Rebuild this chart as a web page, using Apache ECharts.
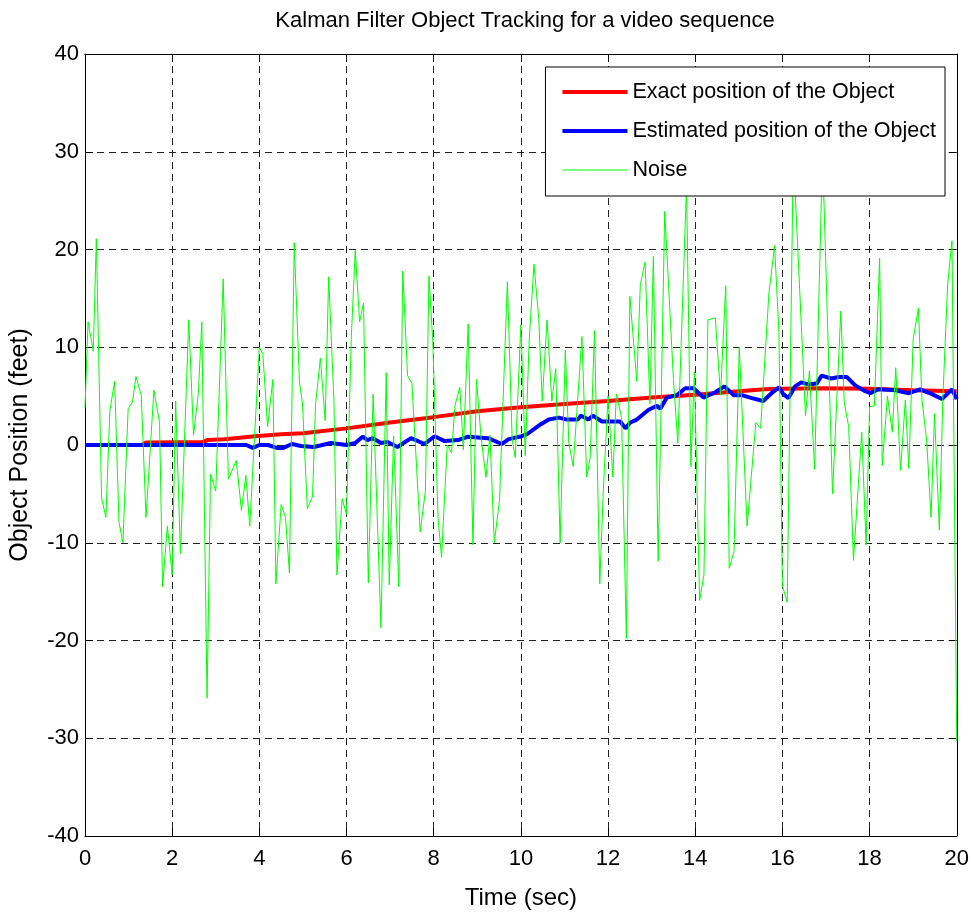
<!DOCTYPE html>
<html>
<head>
<meta charset="utf-8">
<script src="https://cdn.jsdelivr.net/npm/echarts@6/dist/echarts.min.js"></script>
<style>
html, body { margin: 0; background: #fff; }
#main { width: 972px; height: 915px; }
</style>
</head>
<body>
<div id="main"></div>
<script>
const titleText = 'Kalman Filter Object Tracking for a video sequence';
const names = ['Exact position of the Object', 'Estimated position of the Object', 'Noise'];

// [time (sec), position (feet)]
const exact = [
  [0, 0], [1.3, 0], [1.4, 0.25], [2.7, 0.3], [2.8, 0.5], [3.2, 0.6], [3.9, 0.9], [4.5, 1.1],
  [5, 1.2], [6, 1.7], [7, 2.3], [8, 2.85], [9, 3.45], [10, 3.85], [11, 4.2], [12, 4.5],
  [13, 4.85], [14, 5.15], [15, 5.5], [15.6, 5.7], [16, 5.75], [17, 5.8], [18, 5.75], [19, 5.6], [20, 5.5]
];

const estimated = [
  [0, 0], [3.7, 0], [3.85, -0.3], [4.0, 0], [4.2, 0], [4.4, -0.3], [4.55, -0.3], [4.75, 0.1],
  [4.95, -0.1], [5.25, -0.2], [5.64, 0.2], [6.0, 0], [6.2, 0.2], [6.37, 0.85], [6.48, 0.5], [6.6, 0.7],
  [6.79, 0.2], [6.94, 0.3], [7.17, -0.2], [7.48, 0.7], [7.79, 0.1], [8.02, 0.9], [8.25, 0.4], [8.56, 0.5],
  [8.79, 0.85], [9.25, 0.7], [9.56, 0.1], [9.72, 0.6], [10.02, 0.9], [10.14, 1.1], [10.45, 2.1], [10.64, 2.6],
  [10.87, 2.8], [11.06, 2.6], [11.3, 2.6], [11.38, 3.0], [11.55, 2.6], [11.65, 3.0], [11.86, 2.4], [12.28, 2.4],
  [12.4, 1.7], [12.51, 2.3], [12.66, 2.6], [12.93, 3.6], [13.12, 4.0], [13.2, 3.7], [13.35, 4.85], [13.58, 5.1],
  [13.77, 5.8], [13.96, 5.8], [14.19, 4.85], [14.46, 5.4], [14.67, 6.0], [14.88, 5.1], [15.07, 5.1], [15.3, 4.8],
  [15.56, 4.5], [15.75, 5.3], [15.92, 5.9], [16.02, 5.2], [16.14, 4.8], [16.29, 6.0], [16.43, 6.4], [16.6, 6.2],
  [16.79, 6.3], [16.9, 7.1], [17.12, 6.8], [17.29, 6.95], [17.48, 6.95], [17.67, 6.1], [17.9, 5.5], [18.02, 5.3],
  [18.2, 5.7], [18.6, 5.6], [18.9, 5.3], [19.16, 5.7], [19.43, 5.2], [19.66, 4.7], [19.89, 5.7], [20, 4.7]
];

const noise = [
  [0.00, 3.8], [0.07, 12.6], [0.19, 9.6], [0.26, 21.1], [0.38, -5.4], [0.48, -7.4], [0.57, 3.5], [0.68, 6.5],
  [0.78, -7.9], [0.87, -10.0], [0.99, 3.7], [1.09, 4.4], [1.17, 7.0], [1.29, 5.1], [1.40, -7.4], [1.58, 5.6],
  [1.71, 2.3], [1.78, -14.5], [1.89, -8.3], [2.00, -13.3], [2.08, 4.5], [2.19, -11.1], [2.38, 12.8], [2.49, 1.0],
  [2.60, 5.3], [2.68, 12.6], [2.80, -25.9], [2.88, -3.0], [3.00, -4.7], [3.17, 17.0], [3.29, -3.5], [3.47, -1.6],
  [3.59, -6.7], [3.69, -3.1], [3.78, -8.3], [4.00, 10.0], [4.08, 9.3], [4.19, 1.9], [4.31, 6.7], [4.38, -14.2],
  [4.50, -6.1], [4.60, -7.4], [4.69, -13.1], [4.80, 20.7], [4.92, 6.4], [4.99, 4.2], [5.10, -6.5], [5.22, -5.3],
  [5.29, 4.2], [5.40, 8.9], [5.51, 2.5], [5.59, 17.2], [5.71, 4.7], [5.78, -13.3], [5.90, -5.5], [6.00, -7.1],
  [6.11, 11.1], [6.20, 19.9], [6.30, 12.6], [6.39, 14.5], [6.50, -14.1], [6.61, 5.2], [6.79, -18.7], [6.91, 7.4],
  [6.98, -14.3], [7.08, 0.9], [7.20, -14.5], [7.29, 17.8], [7.40, 7.1], [7.50, 6.3], [7.69, -8.9], [7.81, -4.7],
  [7.89, 17.3], [7.98, 10.5], [8.10, -7.5], [8.18, -11.5], [8.31, 0.0], [8.41, -0.8], [8.49, 4.1], [8.60, 5.9],
  [8.68, -0.5], [8.79, 12.4], [8.90, -10.2], [8.98, 6.7], [9.09, 0.6], [9.20, -3.3], [9.29, 1.0], [9.39, -10.0],
  [9.51, -5.6], [9.69, 16.7], [9.80, 0.6], [9.87, -1.3], [10.00, 12.3], [10.10, -1.1], [10.19, 10.7], [10.30, 18.5],
  [10.41, 12.9], [10.49, 4.5], [10.60, 12.8], [10.71, 4.5], [10.80, 7.8], [10.90, -10.0], [11.02, 9.7], [11.10, 0.2],
  [11.20, -2.2], [11.40, 11.1], [11.51, -3.3], [11.59, -1.3], [11.69, 11.7], [11.81, -14.2], [11.89, -4.8], [12.00, 5.0],
  [12.11, -3.3], [12.19, 5.2], [12.31, 2.8], [12.42, -19.8], [12.50, 15.2], [12.66, 6.5], [12.74, 16.4], [12.85, 18.7],
  [12.96, 4.2], [13.04, 19.3], [13.15, -11.9], [13.30, 23.9], [13.50, 6.7], [13.60, 0.2], [13.80, 26.5], [13.90, -2.2],
  [13.98, 7.5], [14.10, -15.9], [14.20, -13.3], [14.29, 12.8], [14.46, 13.0], [14.58, 5.1], [14.70, 16.3], [14.78, -12.6],
  [14.89, -10.9], [15.01, 10.0], [15.19, -8.3], [15.39, 2.3], [15.50, 1.7], [15.69, 15.5], [15.82, 20.4], [15.92, 11.5],
  [16.00, -14.4], [16.11, -16.1], [16.25, 30.0], [16.53, 3.0], [16.62, 7.6], [16.74, -2.5], [16.92, 30.0], [17.15, -5.0],
  [17.34, 13.7], [17.42, 4.3], [17.52, 1.9], [17.63, -11.8], [17.82, 1.3], [17.92, -10.2], [18.00, 3.9], [18.11, 4.0],
  [18.23, 19.1], [18.29, -2.1], [18.41, 5.0], [18.52, 1.3], [18.60, 7.9], [18.71, -2.6], [18.82, 4.6], [18.90, -2.4],
  [19.00, 10.8], [19.12, 14.0], [19.20, 4.7], [19.31, 0.4], [19.41, -7.4], [19.49, 3.2], [19.60, -8.7], [19.68, 4.7],
  [19.79, 16.4], [19.89, 20.9], [20.00, -30.3]
];

const font = "'Liberation Sans', Arial, sans-serif";
const gridDash = { color: '#222', width: 1, type: [7, 5] };
const black = { color: '#000', width: 1 };

function frameAxis(pos, min, max, step) {
  return {
    type: 'value', position: pos, min: min, max: max, interval: step,
    axisLine: { show: true, onZero: false, lineStyle: black },
    axisTick: { show: true, inside: true, length: 8, lineStyle: black },
    axisLabel: { show: false },
    splitLine: { show: false }
  };
}

const chart = echarts.init(document.getElementById('main'));
chart.setOption({
  animation: false,
  backgroundColor: '#fff',
  title: {
    text: titleText,
    left: 520, top: 5, textAlign: 'center',
    textStyle: { fontFamily: font, fontSize: 22, fontWeight: 'normal', color: '#000' }
  },
  legend: {
    orient: 'vertical', right: 27, top: 67,
    backgroundColor: '#fff', borderColor: '#000', borderWidth: 1,
    padding: [14, 9, 15, 15],
    itemWidth: 65, itemHeight: 14, itemGap: 17,
    itemStyle: { opacity: 0 },
    lineStyle: { width: 'inherit' },
    textStyle: { fontFamily: font, fontSize: 21.5, color: '#000' },
    data: names
  },
  grid: { left: 84, right: 15, top: 54, bottom: 76 },
  xAxis: [
    Object.assign(frameAxis('bottom', 0, 20, 2), {
      name: 'Time (sec)', nameLocation: 'middle', nameGap: 50,
      nameTextStyle: { fontFamily: font, fontSize: 24, color: '#000' },
      axisLabel: { show: true, fontFamily: font, fontSize: 22, color: '#000', margin: 12 },
      splitLine: { show: true, lineStyle: gridDash }
    }),
    frameAxis('top', 0, 20, 2)
  ],
  yAxis: [
    Object.assign(frameAxis('left', -40, 40, 10), {
      name: 'Object Position (feet)', nameLocation: 'middle', nameGap: 52,
      nameTextStyle: { fontFamily: font, fontSize: 25, color: '#000' },
      axisLabel: { show: true, fontFamily: font, fontSize: 22, color: '#000', margin: 6 },
      splitLine: { show: true, lineStyle: gridDash }
    }),
    frameAxis('right', -40, 40, 10)
  ],
  series: [
    { name: names[0], type: 'line', data: exact, symbol: 'none', lineStyle: { color: '#ff0000', width: 4 }, itemStyle: { color: '#ff0000' } },
    { name: names[1], type: 'line', data: estimated, symbol: 'none', lineStyle: { color: '#0000ff', width: 4 }, itemStyle: { color: '#0000ff' } },
    { name: names[2], type: 'line', data: noise, symbol: 'none', lineStyle: { color: '#00ff00', width: 1 }, itemStyle: { color: '#00ff00' } }
  ]
});
</script>
</body>
</html>
